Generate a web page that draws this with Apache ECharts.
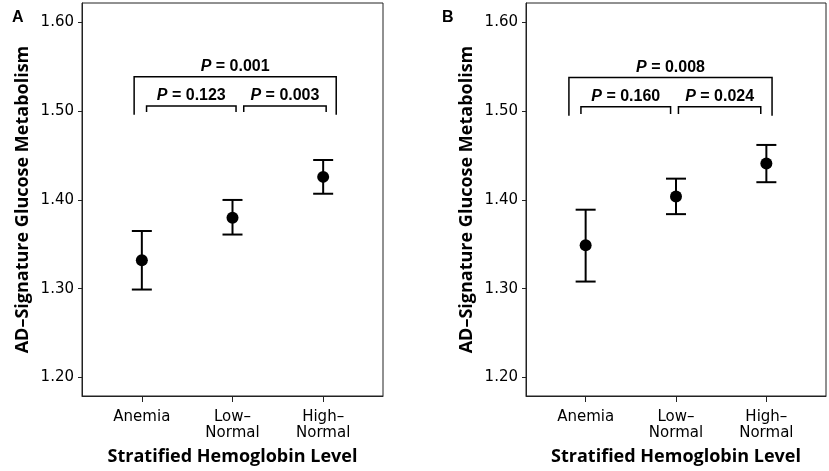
<!DOCTYPE html>
<html lang="en">

<head>
	<meta charset="UTF-8">
	<title>hemoglobin</title>
	<script src="https://cdn.jsdelivr.net/npm/echarts@6/dist/echarts.min.js"></script>
	<style>
		html, body { margin: 0; padding: 0; background: #fff; }
		#chart { width: 829px; height: 471px; }
	</style>
</head>

<body>
	<div id="chart"></div>
	<script>
		// categories on the x axis
		var categories = ['Anemia', 'Low–\nNormal', 'High–\nNormal'];
		var yTicks = [1.2, 1.3, 1.4, 1.5, 1.6];

		// panel A: mean and 95% CI
		var meanA = [1.332, 1.380, 1.426];
		var lowA = [1.299, 1.361, 1.407];
		var highA = [1.365, 1.400, 1.445];

		// panel B
		var meanB = [1.349, 1.404, 1.441];
		var lowB = [1.308, 1.384, 1.420];
		var highB = [1.389, 1.424, 1.462];

		// p-value brackets: [xStart, xEnd, yTop, yLegEnd, p]
		var bracketsA = [
			[-0.085, 2.144, 1.539, 1.496, '0.001'],
			[0.052, 1.039, 1.506, 1.499, '0.123'],
			[1.124, 2.033, 1.506, 1.499, '0.003']
		];
		var bracketsB = [
			[-0.185, 2.063, 1.538, 1.495, '0.008'],
			[-0.052, 0.940, 1.505, 1.497, '0.160'],
			[1.027, 1.938, 1.505, 1.497, '0.024']
		];

		var chart = echarts.init(document.getElementById('chart'));
		var tickFont = 'DejaVu Sans';
		var titleFont = 'Open Sans';

		function xAxisFor(idx) {
			return {
				type: 'value',
				gridIndex: idx,
				min: -0.66,
				max: 2.66,
				splitLine: { show: false },
				axisLine: { show: true, onZero: false, lineStyle: { color: '#222', width: 1 } },
				axisTick: { show: true, customValues: [0, 1, 2], length: 6, lineStyle: { color: '#222' } },
				axisLabel: {
					customValues: [0, 1, 2],
					formatter: function (v) { return categories[Math.round(v)]; },
					fontFamily: tickFont, fontSize: 15, color: '#000', lineHeight: 16, margin: 13
				},
				name: 'Stratified Hemoglobin Level',
				nameLocation: 'middle',
				nameGap: 52,
				nameTextStyle: { fontFamily: titleFont, fontWeight: 'bold', fontSize: 18, color: '#000' }
			};
		}

		function yAxisFor(idx) {
			return {
				type: 'value',
				gridIndex: idx,
				min: 1.179,
				max: 1.622,
				splitLine: { show: false },
				axisLine: { show: true, onZero: false, lineStyle: { color: '#222', width: 1 } },
				axisTick: { show: true, customValues: yTicks, length: 4, lineStyle: { color: '#222' } },
				axisLabel: {
					customValues: yTicks,
					formatter: function (v) { return v.toFixed(2); },
					fontFamily: tickFont, fontSize: 15, color: '#000', margin: 8
				},
				name: 'AD–Signature Glucose Metabolism',
				nameLocation: 'middle',
				nameRotate: 90,
				nameGap: 50,
				nameTextStyle: { fontFamily: titleFont, fontWeight: 'bold', fontSize: 18, color: '#000' }
			};
		}

		function errorBars(idx, low, high) {
			return {
				type: 'custom',
				xAxisIndex: idx,
				yAxisIndex: idx,
				data: low.map(function (l, i) { return [i, l, high[i]]; }),
				encode: { x: 0, y: [1, 2] },
				renderItem: function (params, api) {
					var lo = api.coord([api.value(0), api.value(1)]);
					var hi = api.coord([api.value(0), api.value(2)]);
					var w = 10;
					var style = { stroke: '#000', lineWidth: 2 };
					return {
						type: 'group',
						children: [
							{ type: 'line', shape: { x1: lo[0], y1: lo[1], x2: hi[0], y2: hi[1] }, style: style },
							{ type: 'line', shape: { x1: lo[0] - w, y1: lo[1], x2: lo[0] + w, y2: lo[1] }, style: style },
							{ type: 'line', shape: { x1: hi[0] - w, y1: hi[1], x2: hi[0] + w, y2: hi[1] }, style: style }
						]
					};
				},
				z: 2
			};
		}

		function means(idx, mean) {
			return {
				type: 'scatter',
				xAxisIndex: idx,
				yAxisIndex: idx,
				data: mean.map(function (m, i) { return [i, m]; }),
				symbol: 'circle',
				symbolSize: 12,
				itemStyle: { color: '#000', opacity: 1 },
				z: 3
			};
		}

		function brackets(idx, list) {
			return {
				type: 'custom',
				xAxisIndex: idx,
				yAxisIndex: idx,
				data: list,
				encode: { x: [0, 1], y: [2, 3] },
				renderItem: function (params, api) {
					var tl = api.coord([api.value(0), api.value(2)]);
					var tr = api.coord([api.value(1), api.value(2)]);
					var bl = api.coord([api.value(0), api.value(3)]);
					var br = api.coord([api.value(1), api.value(3)]);
					var p = list[params.dataIndex][4];
					return {
						type: 'group',
						children: [
							{
								type: 'polyline',
								shape: { points: [bl, tl, tr, br] },
								style: { stroke: '#000', lineWidth: 1.5, fill: null }
							},
							{
								type: 'text',
								x: (tl[0] + tr[0]) / 2,
								y: tl[1] - 2,
								style: {
									text: '{p|P} = ' + p,
									rich: {
										p: { fontStyle: 'italic', fontWeight: 'bold', fontFamily: 'Liberation Sans', fontSize: 16, fill: '#000' }
									},
									fontFamily: 'Liberation Sans',
									fontWeight: 'bold',
									fontSize: 16,
									fill: '#000',
									align: 'center',
									verticalAlign: 'bottom'
								}
							}
						]
					};
				}
			};
		}

		var option = {
			animation: false,
			backgroundColor: '#fff',
			title: [
				{ text: 'A', left: 7, top: 5, textStyle: { fontFamily: 'Liberation Sans', fontWeight: 'bold', fontSize: 16, color: '#000' } },
				{ text: 'B', left: 437, top: 5, textStyle: { fontFamily: 'Liberation Sans', fontWeight: 'bold', fontSize: 16, color: '#000' } }
			],
			grid: [
				{ left: 82, top: 3, width: 301, height: 395, show: true, borderColor: '#222', borderWidth: 1, backgroundColor: '#fff' },
				{ left: 526, top: 3, width: 300, height: 395, show: true, borderColor: '#222', borderWidth: 1, backgroundColor: '#fff' }
			],
			xAxis: [xAxisFor(0), xAxisFor(1)],
			yAxis: [yAxisFor(0), yAxisFor(1)],
			series: [
				errorBars(0, lowA, highA),
				means(0, meanA),
				brackets(0, bracketsA),
				errorBars(1, lowB, highB),
				means(1, meanB),
				brackets(1, bracketsB)
			]
		};
		chart.setOption(option);
	</script>
</body>

</html>
